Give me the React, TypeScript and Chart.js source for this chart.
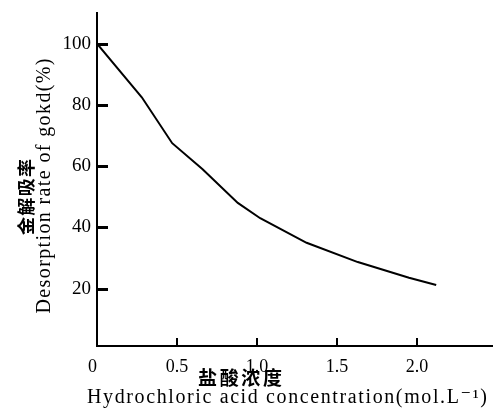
import React, { useEffect, useRef } from 'react';
import { Chart, registerables } from 'chart.js';

Chart.register(...registerables);

// ---- data ----
const concentration = [0, 0.28, 0.47, 0.66, 0.88, 1.02, 1.31, 1.63, 1.95, 2.12];
const desorptionRate = [100, 82.5, 67.5, 59, 48, 43, 35, 28.7, 23.6, 21.2];

const xTickValues = [0, 0.5, 1.0, 1.5, 2.0];
const xTickLabels = ['0', '0.5', '1.0', '1.5', '2.0'];
const yTickValues = [20, 40, 60, 80, 100];
const yTickLabels = ['20', '40', '60', '80', '100'];

const yTitleZh = '金解吸率';
const yTitleEn = 'Desorption rate of gokd(%)';
const xTitleZh = '盐酸浓度';
const xTitleEn = 'Hydrochloric acid concentration(mol.L⁻¹)';

const SERIF = "'Liberation Serif', 'Times New Roman', 'DejaVu Serif', serif";
const CJK = "'Noto Sans CJK SC', 'Noto Sans CJK JP', sans-serif";

// draw text centred at (cx,cy) of current frame, spread to a given total width
function drawSpread(ctx: CanvasRenderingContext2D, text: string, cx: number, cy: number, width: number) {
  const chars = Array.from(text);
  const widths = chars.map((c) => ctx.measureText(c).width);
  const natural = widths.reduce((a, b) => a + b, 0);
  const gap = chars.length > 1 ? (width - natural) / (chars.length - 1) : 0;
  let xPos = cx - width / 2;
  ctx.textAlign = 'left';
  ctx.textBaseline = 'middle';
  chars.forEach((c, i) => {
    ctx.fillText(c, xPos, cy);
    xPos += widths[i] + gap;
  });
}

const axisDecor = {
  id: 'axisDecor',
  afterDraw(chart: any) {
    const { ctx, chartArea } = chart;
    const xs = chart.scales.x;
    const ys = chart.scales.y;
    ctx.save();
    ctx.fillStyle = '#000';

    // inward tick marks (filled rectangles)
    ctx.fillStyle = '#000';
    for (let i = 0; i < yTickValues.length; i++) {
      const py = Math.round(ys.getPixelForValue(yTickValues[i]));
      ctx.fillRect(chartArea.left, py - 1, 11, 3);
    }
    for (let i = 1; i < xTickValues.length; i++) {
      const px = Math.round(xs.getPixelForValue(xTickValues[i]));
      ctx.fillRect(px - 1, chartArea.bottom - 8, 2, 8);
    }

    // y axis titles (rotated)
    ctx.save();
    ctx.translate(chartArea.left - 71, 197);
    ctx.rotate(-Math.PI / 2);
    ctx.font = `bold 18px ${CJK}`;
    drawSpread(ctx, yTitleZh, 0, 0, 76);
    ctx.restore();

    ctx.save();
    ctx.translate(chartArea.left - 52, 186);
    ctx.rotate(-Math.PI / 2);
    ctx.font = `20px ${SERIF}`;
    drawSpread(ctx, yTitleEn, 0, 0, 255);
    ctx.restore();

    // x axis titles
    ctx.save();
    ctx.font = `bold 19px ${CJK}`;
    drawSpread(ctx, xTitleZh, 240, chartArea.bottom + 32, 84);
    ctx.restore();

    ctx.save();
    ctx.font = `20px ${SERIF}`;
    drawSpread(ctx, xTitleEn, 287, chartArea.bottom + 52, 400);
    ctx.restore();

    ctx.restore();
  },
};

export default function App() {
  const canvasRef = useRef<HTMLCanvasElement | null>(null);

  useEffect(() => {
    document.body.style.margin = '0';
    const canvas = canvasRef.current;
    if (!canvas) return;
    const chart = new Chart(canvas, {
      type: 'line',
      data: {
        datasets: [
          {
            data: concentration.map((c, i) => ({ x: c, y: desorptionRate[i] })),
            borderColor: '#000',
            borderWidth: 2,
            pointRadius: 0,
            tension: 0,
            fill: false,
          },
        ],
      },
      options: {
        animation: false,
        responsive: false,
        devicePixelRatio: 1,
        layout: { padding: { top: 13, right: 0, left: 0, bottom: 0 } },
        plugins: {
          legend: { display: false },
          tooltip: { enabled: false },
          title: { display: false },
        },
        scales: {
          x: {
            type: 'linear',
            min: 0,
            max: 2.475,
            grid: { display: false, drawTicks: false },
            border: { display: true, color: '#000', width: 2 },
            afterBuildTicks: (scale: any) => {
              scale.ticks = xTickValues.map((v) => ({ value: v }));
            },
            afterFit: (scale: any) => {
              scale.height = 71;
              scale.paddingLeft = 0;
              scale.paddingRight = 0;
            },
            ticks: {
              color: '#000',
              padding: 10,
              maxRotation: 0,
              font: { family: SERIF, size: 18 },
              callback: (_v: any, i: number) => (i === 0 ? xTickLabels[i] + '\u2002' : xTickLabels[i]),
            },
          },
          y: {
            type: 'linear',
            min: 1.3,
            max: 110,
            grid: { display: false, drawTicks: false },
            border: { display: true, color: '#000', width: 2 },
            afterBuildTicks: (scale: any) => {
              scale.ticks = yTickValues.map((v) => ({ value: v }));
            },
            afterFit: (scale: any) => {
              scale.width = 97;
              scale.paddingTop = 0;
              scale.paddingBottom = 0;
            },
            ticks: {
              color: '#000',
              padding: 6,
              font: { family: SERIF, size: 19 },
              callback: (_v: any, i: number) => yTickLabels[i],
            },
          },
        },
      },
      plugins: [axisDecor],
    });
    return () => chart.destroy();
  }, []);

  return (
    <div style={{ width: 493, height: 417, background: '#fff' }}>
      <canvas ref={canvasRef} width={493} height={417} style={{ display: 'block' }} />
    </div>
  );
}
